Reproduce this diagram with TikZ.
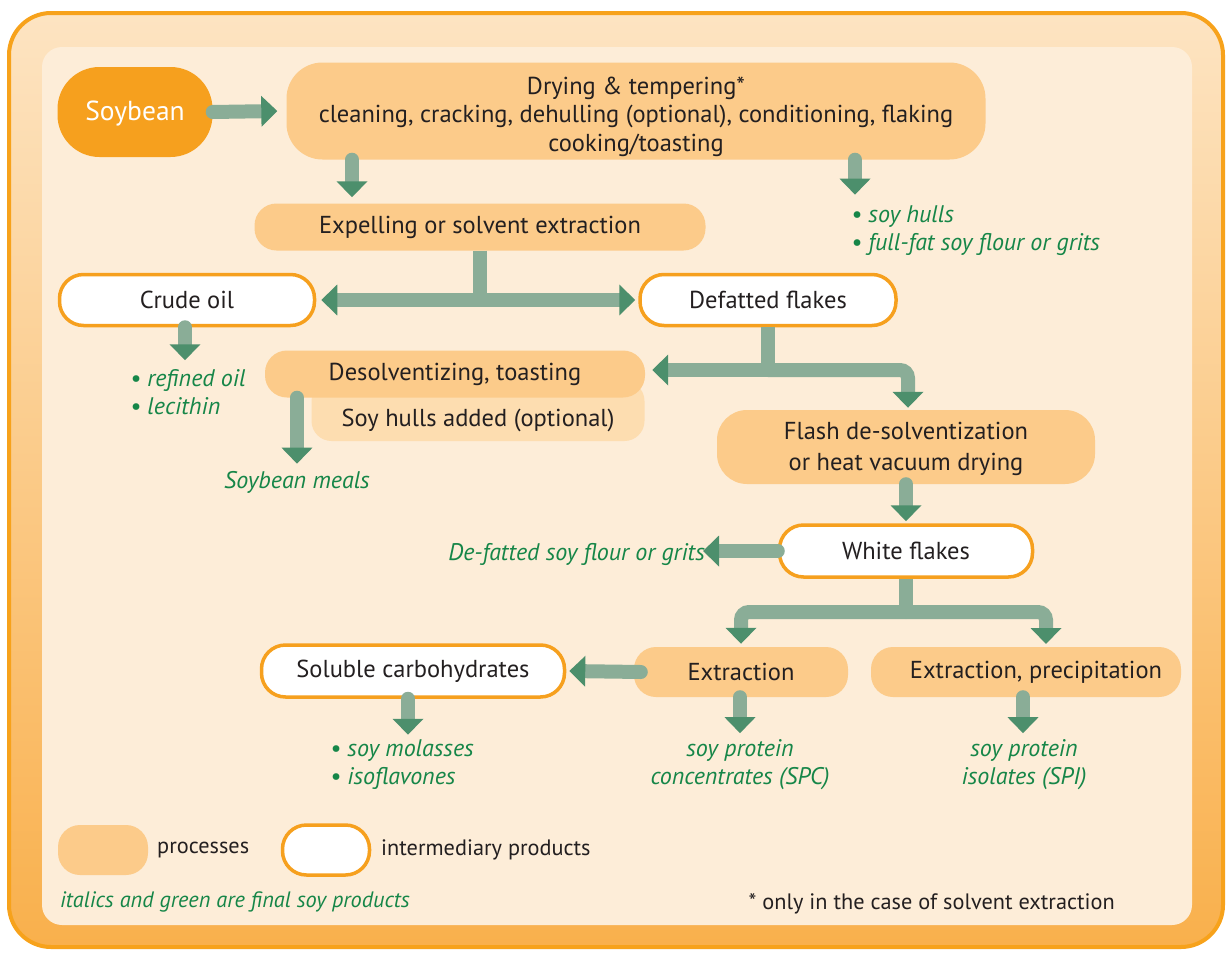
\documentclass[tikz,border=0pt]{standalone}
\usepackage{fontspec}
\setmainfont{PT Sans}
\usetikzlibrary{arrows.meta}
\definecolor{frameorange}{RGB}{247,162,27}
\definecolor{frametop}{RGB}{253,228,194}
\definecolor{framebottom}{RGB}{249,176,76}
\definecolor{panel}{RGB}{253,237,216}
\definecolor{processfill}{RGB}{252,203,138}
\definecolor{hullsfill}{RGB}{253,221,176}
\definecolor{soyorange}{RGB}{246,160,30}
\definecolor{shaftgreen}{RGB}{138,173,151}
\definecolor{headgreen}{RGB}{76,143,108}
\definecolor{soygreen}{RGB}{22,134,72}
\definecolor{textblack}{RGB}{35,31,32}

\tikzset{
  boxfont/.style={font=\fontsize{24.5}{28.5}\selectfont},
  process/.style={fill=processfill, rounded corners=22pt, inner sep=0pt, align=center, text=textblack, boxfont},
  product/.style={fill=white, draw=soyorange, line width=3.5pt, rounded corners=24pt, inner sep=0pt, text=textblack, boxfont},
  final/.style={text=soygreen, inner sep=0pt, font=\fontsize{24}{28}\selectfont\itshape},
  note/.style={text=textblack, inner sep=0pt, font=\fontsize{22.3}{26}\selectfont},
  flowtip/.tip={Triangle[width=30pt,length=16pt,color=headgreen]},
  flow/.style={draw=shaftgreen, line width=14pt, line cap=round, -flowtip},
  trunk/.style={draw=shaftgreen, line width=14pt},
}

\begin{document}
\begin{tikzpicture}[x=1pt,y=-1pt]
  \useasboundingbox (0,0) rectangle (1229,953);
  % frame and panel
  \path[draw=frameorange, line width=4pt, top color=frametop, bottom color=framebottom, rounded corners=42pt] (9,13) rectangle (1223,947);
  \fill[panel, rounded corners=20pt] (42,47) rectangle (1192,925);

  % first row
  \node[fill=soyorange, text=white, rounded corners=42pt, minimum width=155pt, minimum height=90pt, inner sep=0pt, font=\fontsize{27.5}{30}\selectfont] (soy) at (135,112) {\raisebox{-2pt}[\height][\depth]{Soybean}};
  \node[process, minimum width=699pt, minimum height=97pt, rounded corners=36pt] (dry) at (636,111) {\raisebox{-6pt}[\height][\depth]{\begin{tabular}{@{}c@{}}Drying \& tempering*\\cleaning, cracking, dehulling (optional), conditioning, flaking\\cooking/toasting\end{tabular}}};
  \node[process, minimum width=451pt, minimum height=47pt] (expel) at (480,227) {Expelling or solvent extraction};
  \node[final, anchor=west, align=left] (hulls) at (851,231) {• soy hulls\\• full-fat soy flour or grits};

  % oil and flakes
  \node[product, minimum width=255pt, minimum height=51pt] (crude) at (187,300) {Crude oil};
  \node[product, minimum width=256pt, minimum height=51pt] (defat) at (768,300) {Defatted flakes};
  \node[final, anchor=west, align=left] (oil) at (130,392) {• refined oil\\• lecithin};
  \node[fill=hullsfill, rounded corners=20pt, minimum width=333pt, minimum height=60pt, inner sep=0pt, text=textblack, boxfont] (added) at (478,411) {\raisebox{-9pt}[\height][\depth]{Soy hulls added (optional)}};
  \node[process, minimum width=380pt, minimum height=47pt] (desolv) at (455,374) {Desolventizing, toasting};
  \node[final] (meals) at (297,482) {Soybean meals};
  \node[process, minimum width=378pt, minimum height=74pt, rounded corners=30pt] (flash) at (906,447) {\raisebox{-2pt}[\height][\depth]{\begin{tabular}{@{}c@{}}Flash de-solventization\\[2.5pt]or heat vacuum drying\end{tabular}}};
  \node[product, minimum width=253pt, minimum height=52pt] (white) at (906,551) {White flakes};
  \node[final, anchor=east] (defatted) at (705,554) {De-fatted soy flour or grits};

  % bottom row
  \node[product, minimum width=303pt, minimum height=52pt] (soluble) at (413,671) {Soluble carbohydrates};
  \node[process, minimum width=214pt, minimum height=50pt] (extr) at (741,672) {Extraction};
  \node[process, minimum width=310pt, minimum height=50pt] (precip) at (1026,672) {\hspace*{20pt}Extraction, precipitation};
  \node[final, anchor=west, align=left] (molasses) at (330,765) {• soy molasses\\• isoflavones};
  \node[final, align=center] (spc) at (740,765) {soy protein\\concentrates (SPC)};
  \node[final, align=center] (spi) at (1024,765) {soy protein\\isolates (SPI)};

  % legend
  \node[process, minimum width=90pt, minimum height=50pt] (legproc) at (103,850) {};
  \node[note, anchor=west] (legproctxt) at (157,850) {processes};
  \node[product, minimum width=87pt, minimum height=50pt] (legprod) at (326,850) {};
  \node[note, anchor=west] (legprodtxt) at (381,850) {intermediary products};
  \node[final, anchor=west, font=\fontsize{22.3}{26}\selectfont\itshape] (legfinal) at (60,902) {italics and green are final soy products};
  \node[note, anchor=east] (star) at (1115,904) {* only in the case of solvent extraction};

  % arrows
  \draw[flow] (soy.east) -- ([xshift=-9pt]dry.west);
  \draw[flow] ([xshift=-284pt]dry.south) -- ([xshift=-128pt,yshift=6pt]expel.north);
  \draw[flow] ([xshift=219pt]dry.south) -- ++(0,35);
  \draw[trunk] (expel.south) -- (expel.south |- crude.east);
  \draw[flow, flowtip-flowtip] ([xshift=5pt]crude.east) -- ([xshift=-3pt]defat.west);
  \draw[flow] ([xshift=-2pt]crude.south) -- ++(0,33);
  \coordinate (fork) at (768,370);
  \draw[trunk] (defat.south) -- (fork);
  \draw[flow] (fork) -- ([xshift=7pt]desolv.east |- fork);
  \draw[flow, rounded corners=8pt] (fork) -- ([xshift=2pt]flash.north |- fork) -- ([xshift=2pt,yshift=2pt]flash.north);
  \draw[flow] ([xshift=-158pt]desolv.south) -- ++(0,66);
  \draw[flow] (flash.south) -- ([yshift=2pt]white.north);
  \draw[flow] (white.west) -- ([xshift=-2pt]white.west -| defatted.east);
  \coordinate (fork2) at (906,612);
  \draw[trunk] (white.south) -- (fork2);
  \draw[flow, rounded corners=8pt] (fork2) -- (extr.north |- fork2) -- ([yshift=3pt]extr.north);
  \draw[flow, rounded corners=8pt] (fork2) -- (1046,612) -- ++(0,32);
  \draw[flow] ([xshift=7pt]extr.west) -- ([xshift=3pt]soluble.east);
  \draw[flow] ([xshift=-5pt]soluble.south) -- ++(0,36);
  \draw[flow] ([xshift=-1pt]extr.south) -- ++(0,36);
  \draw[flow] ([xshift=-3pt]precip.south) -- ++(0,36);
\end{tikzpicture}
\end{document}
